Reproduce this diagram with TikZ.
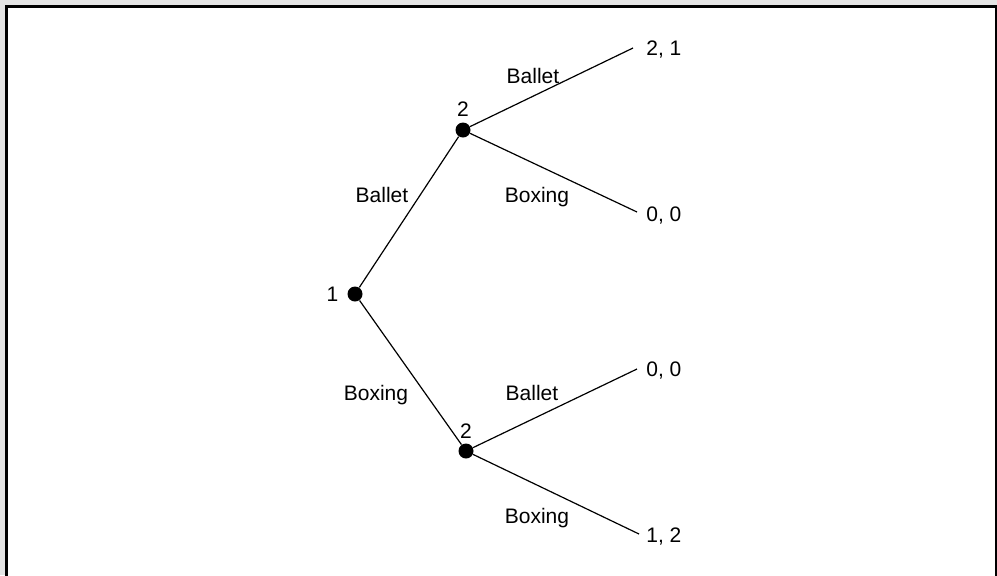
\documentclass[tikz,border=0pt]{standalone}
\usepackage{fontspec}
\setmainfont{Liberation Sans}
\usepackage{tikz}
\usetikzlibrary{positioning}
\definecolor{pagegray}{HTML}{E4E4E4}

\begin{document}
\begin{tikzpicture}[x=0.5pt,y=-0.5pt,
    decision/.style={circle,fill=black,inner sep=0pt,minimum size=7.5pt},
    player/.style={inner sep=0pt,font=\fontsize{10.5}{12}\selectfont},
    move/.style={inner sep=0pt,anchor=base,font=\fontsize{10.5}{12}\selectfont},
    payoff/.style={inner sep=0pt,anchor=base west,font=\fontsize{10.5}{12}\selectfont},
    branch/.style={line width=0.6pt}]
    % Background and frame
    \useasboundingbox (0,0) rectangle (997,575);
    \fill[pagegray] (0,0) rectangle (997,575);
    \begin{scope}
        \clip (0,0) rectangle (997,575);
        \draw[fill=white,line width=1.5pt] (6.5,6.5) rectangle (996.5,600);
    \end{scope}

    % Decision nodes
    \node[decision] (root) at (355,294) {};
    \node[decision] (up) at (463,130) {};
    \node[decision] (down) at (466,451) {};

    % Players
    \node[player,left=4.25pt of root] (p1) {1};
    \node[player,above=2.5pt of up] (p2up) {2};
    \node[player,above=2.2pt of down] (p2down) {2};

    % Terminal points
    \coordinate (t1) at (633,48);
    \coordinate (t2) at (637,212);
    \coordinate (t3) at (637,369);
    \coordinate (t4) at (639,534);

    % Branches
    \draw[branch] (root) -- (up);
    \draw[branch] (root) -- (down);
    \draw[branch] (up) -- (t1);
    \draw[branch] (up) -- (t2);
    \draw[branch] (down) -- (t3);
    \draw[branch] (down) -- (t4);

    % Moves
    \node[move] (m1) at (382,202) {Ballet};
    \node[move] (m2) at (376,400) {Boxing};
    \node[move] (m3) at (533,83) {Ballet};
    \node[move] (m4) at (537,202) {Boxing};
    \node[move] (m5) at (532,400) {Ballet};
    \node[move] (m6) at (537,523) {Boxing};

    % Payoffs
    \node[payoff] (u1) at (646,55) {2, 1};
    \node[payoff] (u2) at (646,221) {0, 0};
    \node[payoff] (u3) at (646,376) {0, 0};
    \node[payoff] (u4) at (646,542) {1, 2};
\end{tikzpicture}
\end{document}
